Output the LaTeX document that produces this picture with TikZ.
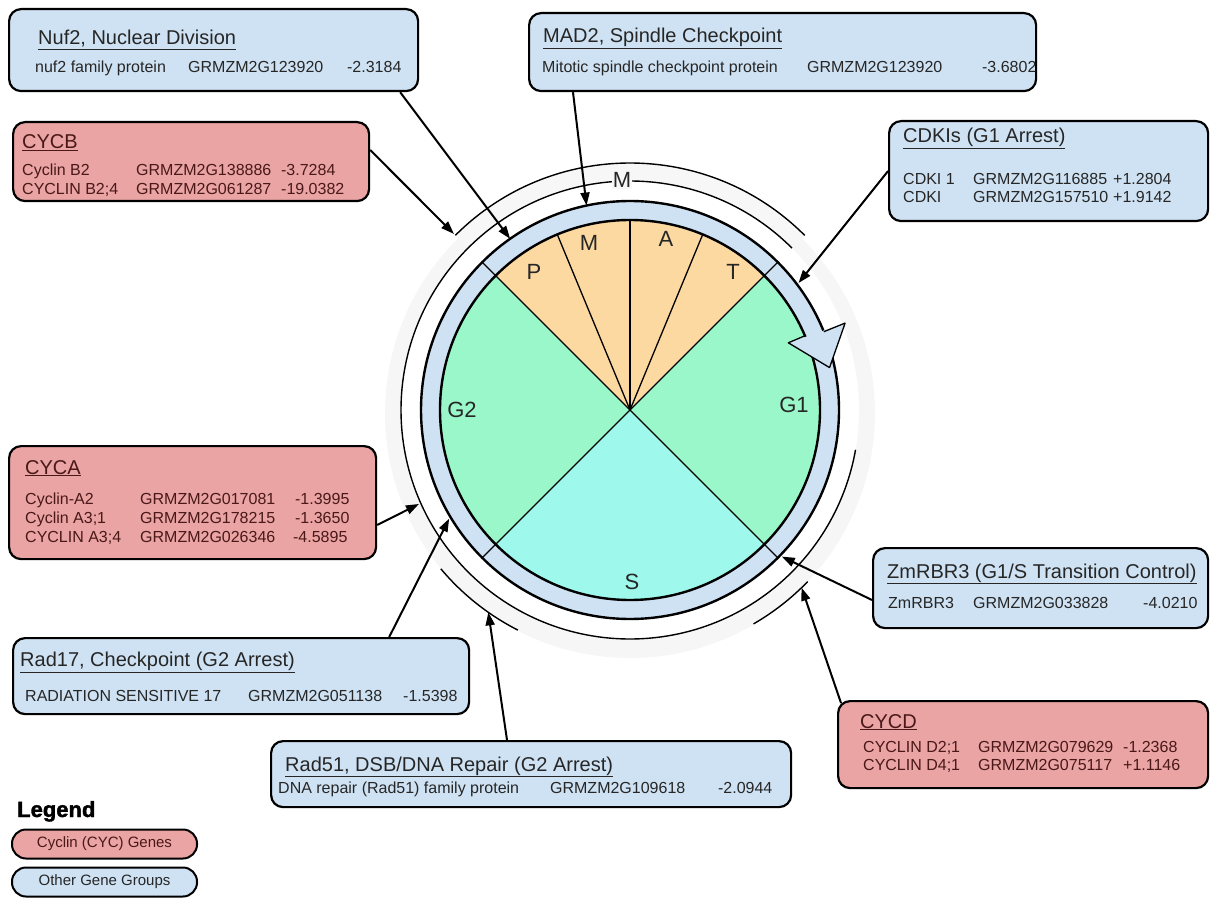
\documentclass[tikz,border=0pt]{standalone}
\usepackage{fontspec}
\setmainfont{Liberation Sans}
\newfontfamily\legendfont{Liberation Sans Bold}[FakeBold=1.6]
\usepackage{xcolor}
\usepackage{tikz}
\usetikzlibrary{calc}
\usetikzlibrary{arrows.meta}
\usetikzlibrary{positioning}

\definecolor{boxblue}{HTML}{CFE2F3}
\definecolor{boxpink}{HTML}{EAA4A4}
\definecolor{phasem}{HTML}{FCD9A1}
\definecolor{phaseg}{HTML}{9AF7C9}
\definecolor{phases}{HTML}{9EF8EC}
\definecolor{inktxt}{HTML}{262626}
\definecolor{cyctxt}{HTML}{4A1818}

\begin{document}
\begin{tikzpicture}[x=1pt,y=1pt]
% 1 px = 1 pt
    \def\CX{630}
    \def\CY{-410}
    \def\RIN{190pt}   %pie radius
    \def\RBAND{209pt} %outer edge of blue band
    \def\RLONG{229pt} %long thin arc
    \def\ROUT{247pt}  %outer arcs (M and S)

    \tikzset{
      partial circle/.style args={#1:#2:#3}{
          insert path={+ (#1:#3) arc (#1:#2:#3)}
      },
      genebox/.style={draw=black, line width=2.2pt, rounded corners=12pt,
        fill=boxblue, inner sep=0pt, anchor=north west},
      cycbox/.style={genebox, fill=boxpink},
      boxtitle/.style={anchor=base west, inner sep=0pt, text=inktxt,
        font=\fontsize{20}{24}\selectfont},
      boxrow/.style={anchor=base west, inner sep=0pt, text=inktxt,
        font=\fontsize{16}{19}\selectfont},
      cycrow/.style={boxrow, text=cyctxt},
      cyctitle/.style={boxtitle, text=cyctxt},
      phase/.style={inner sep=0pt, text=inktxt, font=\fontsize{22}{26}\selectfont},
      legpill/.style={draw=black, line width=2pt, rounded corners=14pt,
        minimum width=185pt, minimum height=29pt, inner sep=0pt,
        font=\fontsize{15}{18}\selectfont},
      link/.style={-{Triangle[length=13pt,width=9pt]}, line width=2pt},
    }

    \useasboundingbox (0,0) rectangle (1210,-901);
    \coordinate (C) at (\CX,\CY);

    % HALO
    \fill[gray!7] ([yshift=-3pt]C) circle (245pt);
    \fill[white] (C) circle (\RLONG);
    \fill[gray!6] (C) [partial circle=45:135:\ROUT]
        -- ($(C)+(135:\RLONG)$) arc (135:45:\RLONG) -- cycle;

    % BAND AND PIE
    \fill[boxblue] (C) circle (\RBAND);
    \fill[phaseg] (C) -- +(-45:\RIN) arc (-45:45:\RIN) -- cycle;
    \fill[phasem] (C) -- +(45:\RIN) arc (45:135:\RIN) -- cycle;
    \fill[phaseg] (C) -- +(135:\RIN) arc (135:225:\RIN) -- cycle;
    \fill[phases] (C) -- +(225:\RIN) arc (225:315:\RIN) -- cycle;
    \foreach \a in {45,135,225,315}
        \draw[line width=1.3pt] (C) -- +(\a:\RBAND);
    \foreach \a in {67.5,90,112.5}
        \draw[line width=1.3pt] (C) -- +(\a:\RIN);
    \draw[line width=2.4pt] (C) circle (\RIN);
    \draw[line width=2.4pt] (C) circle (\RBAND);

    % ARROW HEAD ON THE BAND
    \fill[boxblue] ($(C)+(23:172pt)$) -- ($(C)+(22:232pt)$)
        -- ($(C)+(12:204pt)$) -- cycle;
    \draw[line width=1.3pt, line join=round] ($(C)+(23:\RIN)$)
        -- ($(C)+(23:172pt)$) -- ($(C)+(12:204pt)$)
        -- ($(C)+(22:232pt)$) -- ($(C)+(22:\RBAND)$);

    % OUTER ARCS
    \draw[line width=1.4pt] (C) [partial circle=45:135:\ROUT];
    \draw[line width=1.4pt] (C) [partial circle=45:350:\RLONG];
    \draw[line width=1.4pt] (C) [partial circle=220:243:\ROUT];
    \draw[line width=1.4pt] (C) [partial circle=300:316:\ROUT];

    % PHASE LABELS
    \node[phase, fill=gray!6, inner sep=1pt] (lblMring) at (622,-180) {M};
    \node[phase] (lblP) at (534,-272) {P};
    \node[phase] (lblM) at (589,-243) {M};
    \node[phase] (lblA) at (666,-239) {A};
    \node[phase] (lblT) at (733,-272) {T};
    \node[phase] (lblGtwo) at (462,-410) {G2};
    \node[phase] (lblGone) at (794,-405) {G1};
    \node[phase] (lblS) at (632,-582) {S};

    % NUF2
    \node[genebox, minimum width=409pt, minimum height=82pt] (nuf) at (8,-8) {};
    \node[boxtitle] (nufTitle) at (38,-45) {\underline{Nuf2, Nuclear Division}};
    \node[boxrow] (nufRow) at (35,-72.5)
        {\makebox[153pt][l]{nuf2 family protein}\makebox[159pt][l]{GRMZM2G123920}-2.3184};

    % CYCB
    \node[cycbox, minimum width=356pt, minimum height=79pt] (cycb) at (12,-121) {};
    \node[cyctitle] (cycbTitle) at (22,-149) {\underline{CYCB}};
    \node[cycrow] (cycbRowA) at (22,-175.5)
        {\makebox[114pt][l]{Cyclin B2}\makebox[145pt][l]{GRMZM2G138886}-3.7284};
    \node[cycrow] (cycbRowB) at (22,-195)
        {\makebox[114pt][l]{CYCLIN B2;4}\makebox[145pt][l]{GRMZM2G061287}-19.0382};

    % MAD2
    \node[genebox, minimum width=507pt, minimum height=78pt] (mad) at (528,-12) {};
    \node[boxtitle] (madTitle) at (543,-43) {\underline{MAD2, Spindle Checkpoint}};
    \node[boxrow] (madRow) at (542,-73)
        {\makebox[265pt][l]{Mitotic spindle checkpoint protein}\makebox[175pt][l]{GRMZM2G123920}-3.6802};

    % CDKIs
    \node[genebox, minimum width=319pt, minimum height=100pt] (cdki) at (888,-120) {};
    \node[boxtitle] (cdkiTitle) at (903,-143) {\underline{CDKIs (G1 Arrest)}};
    \node[boxrow] (cdkiRowA) at (903,-185)
        {\makebox[70pt][l]{CDKI 1}\makebox[140pt][l]{GRMZM2G116885}+1.2804};
    \node[boxrow] (cdkiRowB) at (903,-203)
        {\makebox[70pt][l]{CDKI}\makebox[140pt][l]{GRMZM2G157510}+1.9142};

    % CYCA
    \node[cycbox, minimum width=367pt, minimum height=113pt] (cyca) at (8,-445) {};
    \node[cyctitle] (cycaTitle) at (25,-474) {\underline{CYCA}};
    \node[cycrow] (cycaRowA) at (25,-504)
        {\makebox[115pt][l]{Cyclin-A2}\makebox[155pt][l]{GRMZM2G017081}-1.3995};
    \node[cycrow] (cycaRowB) at (25,-523)
        {\makebox[115pt][l]{Cyclin A3;1}\makebox[155pt][l]{GRMZM2G178215}-1.3650};
    \node[cycrow] (cycaRowC) at (25,-542.5)
        {\makebox[115pt][l]{CYCLIN A3;4}\makebox[153pt][l]{GRMZM2G026346}-4.5895};

    % RAD17
    \node[genebox, minimum width=456pt, minimum height=76pt] (radA) at (12,-637) {};
    \node[boxtitle] (radATitle) at (20,-666.5) {\underline{Rad17, Checkpoint (G2 Arrest)}};
    \node[boxrow] (radARow) at (25,-701.5)
        {\makebox[223pt][l]{RADIATION SENSITIVE 17}\makebox[155pt][l]{GRMZM2G051138}-1.5398};

    % ZmRBR3
    \node[genebox, minimum width=335pt, minimum height=80pt] (zm) at (872,-547) {};
    \node[boxtitle] (zmTitle) at (887,-578) {\underline{ZmRBR3 (G1/S Transition Control)}};
    \node[boxrow] (zmRow) at (888,-608)
        {\makebox[85pt][l]{ZmRBR3}\makebox[170pt][l]{GRMZM2G033828}-4.0210};

    % CYCD
    \node[cycbox, minimum width=370pt, minimum height=87pt] (cycd) at (837,-700) {};
    \node[cyctitle] (cycdTitle) at (860,-728) {\underline{CYCD}};
    \node[cycrow] (cycdRowA) at (863,-752.5)
        {\makebox[115pt][l]{CYCLIN D2;1}\makebox[145pt][l]{GRMZM2G079629}-1.2368};
    \node[cycrow] (cycdRowB) at (863,-770.5)
        {\makebox[115pt][l]{CYCLIN D4;1}\makebox[145pt][l]{GRMZM2G075117}+1.1146};

    % RAD51
    \node[genebox, minimum width=520pt, minimum height=66pt] (radB) at (270,-740) {};
    \node[boxtitle] (radBTitle) at (285,-771) {\underline{Rad51, DSB/DNA Repair (G2 Arrest)}};
    \node[boxrow] (radBRow) at (278,-793)
        {\makebox[272pt][l]{DNA repair (Rad51) family protein}\makebox[168pt][l]{GRMZM2G109618}-2.0944};

    % LEGEND
    \node[anchor=base west, inner sep=0pt, font=\fontsize{22}{26}\selectfont\legendfont]
        (legTitle) at (17,-817) {Legend};
    \node[legpill, fill=boxpink, text=cyctxt] (legCyc) at (104.5,-844) {Cyclin (CYC) Genes};
    \node[legpill, fill=boxblue, text=inktxt] (legOther) at (104.5,-882) {Other Gene Groups};

    % ARROWS
    \coordinate (tipNuf) at ($(C)+(125:\RBAND)$);
    \coordinate (tipMad) at ($(C)+(102:\RBAND)$);
    \coordinate (tipCycb) at ($(C)+(135:249pt)$);
    \coordinate (tipCdki) at ($(C)+(37:211pt)$);
    \coordinate (tipCyca) at ($(C)+(204:231pt)$);
    \coordinate (tipRadA) at ($(C)+(211:211pt)$);
    \coordinate (tipRadB) at ($(C)+(235:\ROUT)$);
    \coordinate (tipZm) at ($(C)+(316:211pt)$);
    \coordinate (tipCycd) at ($(C)+(314:\ROUT)$);

    \draw[link] ([xshift=-19pt]nuf.south east) -- (tipNuf);
    \draw[link] ([xshift=45pt]mad.south west) -- (tipMad);
    \draw[link] ([yshift=-29pt]cycb.north east) -- (tipCycb);
    \draw[link] (cdki.west) -- (tipCdki);
    \draw[link] ([yshift=-80pt]cyca.north east) -- (tipCyca);
    \draw[link] ([xshift=-81pt]radA.north east) -- (tipRadA);
    \draw[link] ([xshift=237pt]radB.north west) -- (tipRadB);
    \draw[link] ([yshift=-53pt]zm.north west) -- (tipZm);
    \draw[link] ([shift={(4pt,-3pt)}]cycd.north west) -- (tipCycd);

\end{tikzpicture}
\end{document}
